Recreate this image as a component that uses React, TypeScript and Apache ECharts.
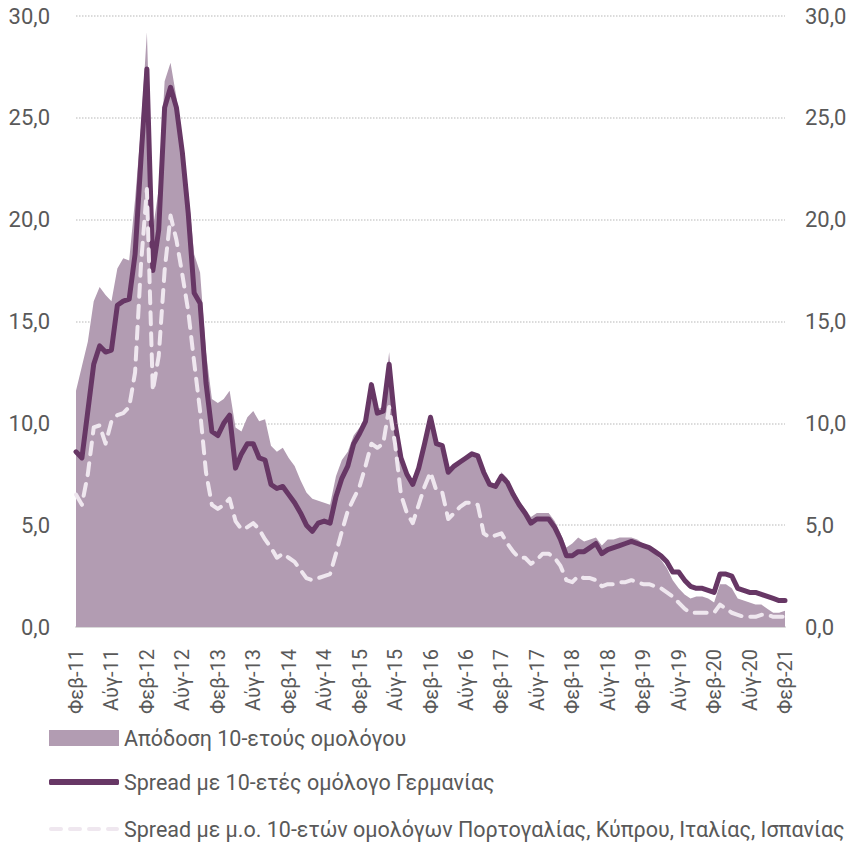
import React, { useEffect, useRef } from "react";
import * as echarts from "echarts";

const monthNames = ["Ιαν", "Φεβ", "Μαρ", "Απρ", "Μάι", "Ιούν", "Ιούλ", "Αύγ", "Σεπ", "Οκτ", "Νοέ", "Δεκ"];
const startYear = 2011;
const startMonth = 1; // Φεβ
const monthCount = 121;

const yieldGR = [
  11.6, 12.8, 14.0, 16.0, 16.7, 16.3, 16.0, 17.6, 18.1, 18.0, 21.0, 24.5,
  29.2, 19.5, 21.5, 26.8, 27.7, 26.0, 23.7, 21.3, 18.3, 17.4, 13.5, 11.2,
  11.0, 11.2, 11.6, 9.8, 9.6, 10.3, 10.6, 10.1, 10.2, 8.9, 8.6, 8.8,
  8.3, 7.9, 7.2, 6.6, 6.3, 6.2, 6.1, 6.0, 7.4, 8.2, 8.6, 9.4,
  9.8, 10.3, 12.0, 10.7, 10.8, 13.5, 10.1, 8.4, 7.6, 7.1, 7.9, 9.1,
  10.3, 9.1, 9.0, 7.7, 8.0, 8.2, 8.4, 8.6, 8.5, 7.7, 7.1, 7.0,
  7.6, 7.3, 6.7, 6.2, 5.8, 5.4, 5.6, 5.6, 5.6, 5.2, 4.6, 3.9,
  4.1, 4.4, 4.2, 4.3, 4.4, 4.0, 4.3, 4.3, 4.4, 4.4, 4.4, 4.3,
  4.1, 3.9, 3.6, 3.3, 2.9, 2.3, 1.9, 1.6, 1.4, 1.5, 1.5, 1.4,
  1.2, 2.1, 2.1, 1.9, 1.4, 1.3, 1.2, 1.1, 1.1, 0.9, 0.7, 0.7,
  0.8,
];

const spreadGermany = [
  8.6, 8.3, 10.6, 12.9, 13.8, 13.5, 13.6, 15.8, 16.0, 16.1, 18.3, 23.0,
  27.4, 17.5, 19.5, 25.5, 26.5, 25.5, 23.3, 20.3, 16.4, 15.9, 12.0, 9.6,
  9.4, 10.0, 10.4, 7.8, 8.5, 9.0, 9.0, 8.3, 8.2, 7.0, 6.8, 6.9,
  6.5, 6.1, 5.6, 5.0, 4.7, 5.1, 5.2, 5.1, 6.4, 7.3, 7.9, 9.0,
  9.5, 10.1, 11.9, 10.5, 10.6, 12.9, 10.0, 8.3, 7.5, 7.0, 7.8, 9.0,
  10.3, 9.0, 8.9, 7.6, 7.9, 8.1, 8.3, 8.5, 8.4, 7.6, 7.0, 6.9,
  7.4, 7.1, 6.5, 6.0, 5.6, 5.1, 5.3, 5.3, 5.3, 4.9, 4.3, 3.5,
  3.5, 3.7, 3.7, 3.9, 4.1, 3.6, 3.8, 3.9, 4.0, 4.1, 4.2, 4.1,
  4.0, 3.9, 3.7, 3.5, 3.2, 2.7, 2.7, 2.3, 2.0, 1.9, 1.9, 1.8,
  1.7, 2.6, 2.6, 2.5, 1.9, 1.8, 1.7, 1.7, 1.6, 1.5, 1.4, 1.3,
  1.3,
];

const spreadPeers = [
  6.5, 6.0, 7.5, 9.8, 9.9, 9.0, 10.1, 10.4, 10.5, 10.8, 12.5, 17.8,
  21.5, 11.6, 13.3, 17.5, 20.2, 19.0, 17.3, 15.5, 13.0, 10.6, 7.6, 6.0,
  5.8, 6.0, 6.3, 5.2, 4.8, 4.9, 5.1, 4.8, 4.3, 3.9, 3.4, 3.6,
  3.4, 3.2, 2.8, 2.4, 2.3, 2.4, 2.5, 2.6, 3.6, 4.7, 5.7, 6.3,
  6.9, 7.9, 9.0, 8.8, 9.0, 10.8, 9.0, 6.5, 5.6, 5.1, 6.0, 6.9,
  7.6, 6.7, 6.6, 5.3, 5.6, 5.9, 6.1, 6.1, 6.0, 4.6, 4.4, 4.5,
  4.6, 4.1, 3.7, 3.4, 3.4, 3.1, 3.3, 3.6, 3.6, 3.4, 3.0, 2.3,
  2.2, 2.5, 2.4, 2.4, 2.3, 2.0, 2.1, 2.1, 2.2, 2.2, 2.3, 2.2,
  2.1, 2.1, 2.0, 1.9, 1.7, 1.5, 1.2, 0.9, 0.7, 0.7, 0.7, 0.7,
  0.7, 1.1, 0.9, 0.7, 0.6, 0.5, 0.5, 0.5, 0.6, 0.6, 0.5, 0.5,
  0.5,
];

const seriesNames = [
  "Απόδοση 10-ετούς ομολόγου",
  "Spread με 10-ετές ομόλογο Γερμανίας",
  "Spread με μ.ο. 10-ετών ομολόγων Πορτογαλίας, Κύπρου, Ιταλίας, Ισπανίας",
];

const categories: string[] = [];
for (let k = 0; k < monthCount; k++) {
  const m = (startMonth + k) % 12;
  const y = startYear + Math.floor((startMonth + k) / 12);
  categories.push(`${monthNames[m]}-${String(y % 100).padStart(2, "0")}`);
}

const FONT = "Roboto, 'Noto Sans', sans-serif";
const TXT = "#595959";
const AREA = "#B29CB2";
const DARK = "#673765";
const LIGHT = "#EFE7EF";

const legendBase = {
  orient: "horizontal",
  left: 44,
  itemWidth: 70,
  selectedMode: false,
  textStyle: { fontFamily: FONT, fontSize: 21.5, color: TXT },
};

export default function App() {
  const ref = useRef<HTMLDivElement>(null);
  useEffect(() => {
    if (!ref.current) return;
    const chart = echarts.init(ref.current, null, { renderer: "svg" });
    const fmt = (v: number) => v.toFixed(1).replace(".", ",");
    chart.setOption({
      animation: false,
      textStyle: { fontFamily: FONT },
      grid: { left: 76, right: 71, top: 16, bottom: 216, containLabel: false },
      legend: [
        {
          ...legendBase,
          top: 722,
          itemHeight: 16,
          data: [{ name: seriesNames[0], icon: "rect" }],
        },
        {
          ...legendBase,
          top: 766,
          itemHeight: 6,
          data: [{ name: seriesNames[1], icon: "roundRect", itemStyle: { color: DARK } }],
        },
        {
          ...legendBase,
          top: 813,
          itemHeight: 5,
          data: [
            {
              name: seriesNames[2],
              icon: "path://M2,0h10a2,2 0 0 1 0,4h-10a2,2 0 0 1 0,-4z M21,0h10a2,2 0 0 1 0,4h-10a2,2 0 0 1 0,-4z M40,0h10a2,2 0 0 1 0,4h-10a2,2 0 0 1 0,-4z M59,0h9a2,2 0 0 1 0,4h-9a2,2 0 0 1 0,-4z",
              itemStyle: { color: LIGHT },
            },
          ],
        },
      ],
      xAxis: {
        type: "category",
        data: categories,
        boundaryGap: false,
        axisTick: { show: false },
        axisLine: { lineStyle: { color: "#D9D9D9", width: 2 } },
        axisLabel: {
          interval: 5,
          rotate: 90,
          margin: 22,
          color: TXT,
          fontSize: 20,
          fontFamily: FONT,
        },
      },
      yAxis: [
        {
          type: "value",
          min: 0,
          max: 30,
          interval: 5,
          axisLine: { show: false },
          axisTick: { show: false },
          splitLine: { lineStyle: { color: "#D0D0D0", type: "dotted", width: 1.5 } },
          axisLabel: { formatter: fmt, color: TXT, fontSize: 22, margin: 26, fontFamily: FONT },
        },
        {
          type: "value",
          min: 0,
          max: 30,
          interval: 5,
          position: "right",
          axisLine: { show: false },
          axisTick: { show: false },
          splitLine: { show: false },
          axisLabel: { formatter: fmt, color: TXT, fontSize: 22, margin: 20, fontFamily: FONT },
        },
      ],
      series: [
        {
          name: seriesNames[0],
          type: "line",
          data: yieldGR,
          symbol: "none",
          color: AREA,
          lineStyle: { width: 0 },
          areaStyle: { color: AREA, opacity: 1 },
          z: 1,
        },
        {
          name: seriesNames[1],
          type: "line",
          data: spreadGermany,
          symbol: "none",
          color: DARK,
          lineStyle: { color: DARK, width: 5, join: "round", cap: "round" },
          z: 3,
        },
        {
          name: seriesNames[2],
          type: "line",
          data: spreadPeers,
          symbol: "none",
          color: LIGHT,
          lineStyle: { color: LIGHT, width: 4, type: [12, 9], cap: "round", join: "round" },
          z: 4,
        },
      ],
    });
    return () => chart.dispose();
  }, []);
  return (
    <div
      ref={ref}
      style={{ position: "absolute", left: 0, top: 0, width: 856, height: 843 }}
    />
  );
}
